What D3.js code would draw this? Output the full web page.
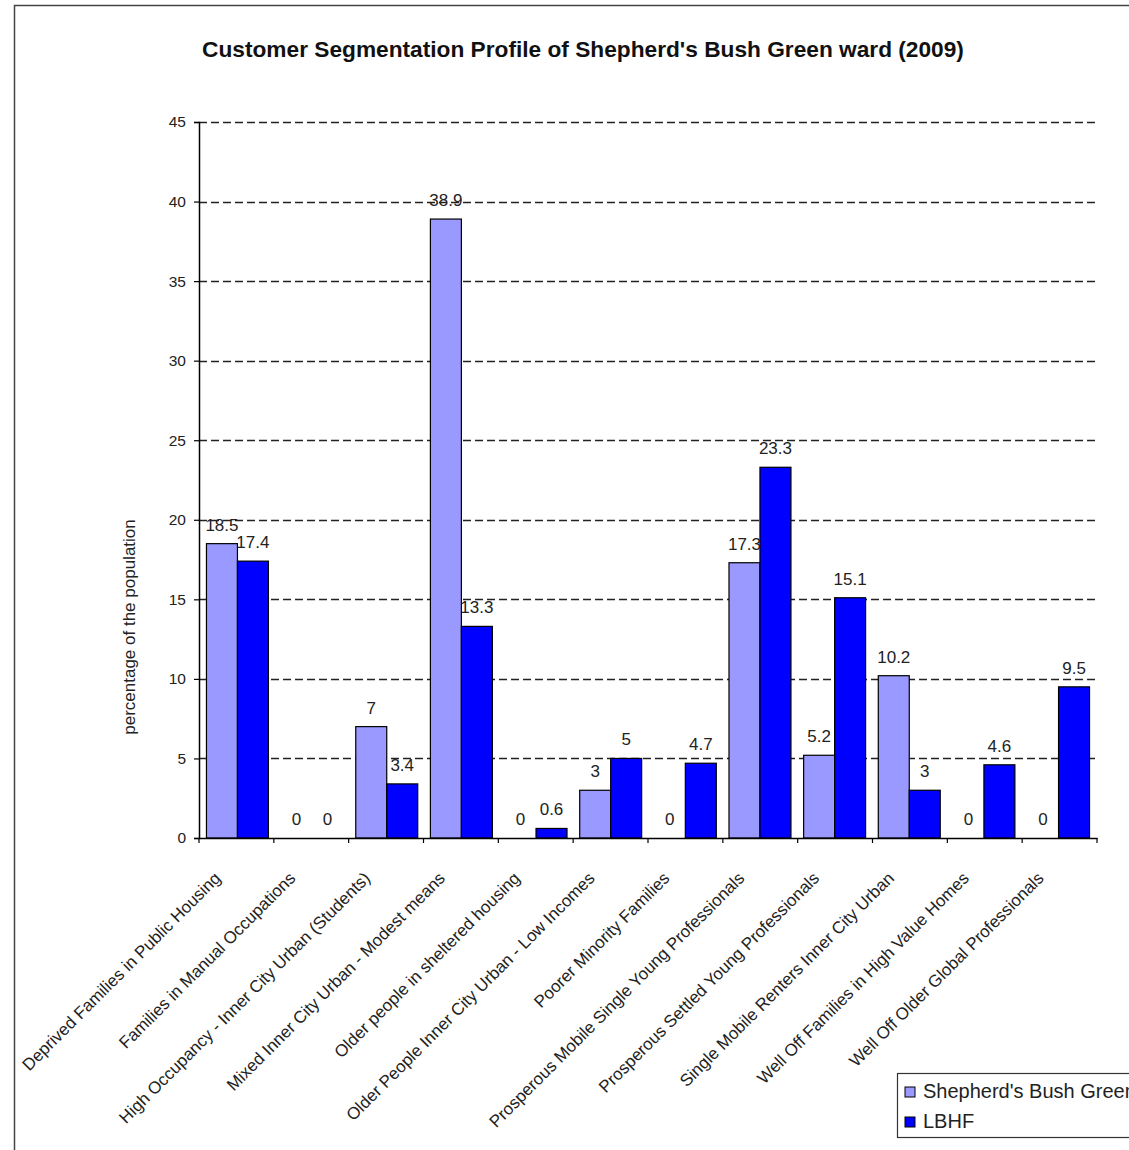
<!DOCTYPE html>
<html>
<head>
<meta charset="utf-8">
<script src="https://cdn.jsdelivr.net/npm/d3@7"></script>
<style>
body { margin:0; background:#fff; }
svg { font-family: "Liberation Sans", Arial, sans-serif; }
</style>
</head>
<body>
<svg id="chart" width="1129" height="1150"></svg>
<script>
//分类
var categories = [
	"Deprived Families in Public Housing",
	"Families in Manual Occupations",
	"High Occupancy - Inner City Urban (Students)",
	"Mixed Inner City Urban - Modest means",
	"Older people in sheltered housing",
	"Older People Inner City Urban - Low Incomes",
	"Poorer Minority Families",
	"Prosperous Mobile Single Young Professionals",
	"Prosperous Settled Young Professionals",
	"Single Mobile Renters Inner City Urban",
	"Well Off Families in High Value Homes",
	"Well Off Older Global Professionals"
];
var wardValues = [18.5, 0, 7, 38.9, 0, 3, 0, 17.3, 5.2, 10.2, 0, 0];
var lbhfValues = [17.4, 0, 3.4, 13.3, 0.6, 5, 4.7, 23.3, 15.1, 3, 4.6, 9.5];
var seriesNames = ["Shepherd's Bush Green", "LBHF"];
var yTicks = [0, 5, 10, 15, 20, 25, 30, 35, 40, 45];

var colors = ["#9999ff", "#0000ff"];

var s = d3.select("#chart");
var width = +s.attr("width");
var height = +s.attr("height");

//外框
s.append("rect")
	.attr("x", 14.5).attr("y", 5.5)
	.attr("width", 1200).attr("height", 1200)
	.attr("fill", "#fff")
	.attr("stroke", "#444").attr("stroke-width", 1.5);

var padding = {top:122, right:32, bottom:312, left:199};

var x = d3.scaleBand()
	.domain(categories)
	.range([padding.left, width-padding.right])
	.paddingInner(0.17).paddingOuter(0.1);
var x1 = d3.scaleBand()
	.domain([0,1])
	.range([0, x.bandwidth()]);
var y = d3.scaleLinear()
	.domain([0, 45])
	.range([height-padding.bottom, padding.top]);

//标题
s.append("text")
	.attr("x", 583).attr("y", 57)
	.attr("text-anchor", "middle")
	.style("font-size", "22.7px").style("font-weight", "bold")
	.attr("fill", "#111")
	.text("Customer Segmentation Profile of Shepherd's Bush Green ward (2009)");

//网格线
s.append("g").selectAll("line")
	.data(yTicks.filter(function(d){ return d>0; }))
	.enter().append("line")
	.attr("x1", padding.left).attr("x2", width-padding.right)
	.attr("y1", function(d){ return Math.round(y(d))+0.5; })
	.attr("y2", function(d){ return Math.round(y(d))+0.5; })
	.attr("stroke", "#222").attr("stroke-width", 1.3)
	.attr("stroke-dasharray", "8,4");

//y轴
var yAxis = d3.axisLeft(y).tickValues(yTicks).tickSize(5).tickPadding(8);
var gy = s.append("g")
	.attr("transform", "translate("+padding.left+",0)")
	.call(yAxis);
gy.select(".domain").attr("stroke", "#000").attr("stroke-width", 1.5);
gy.selectAll(".tick line").attr("stroke", "#000").attr("stroke-width", 1.2);
gy.selectAll("text").style("font-size", "15.5px").attr("fill", "#222");

s.append("text")
	.attr("transform", "translate(135,627) rotate(-90)")
	.attr("text-anchor", "middle")
	.style("font-size", "17px")
	.attr("fill", "#222")
	.text("percentage of the population");

//柱子
function pairs(d, i){
	return [{s:0, v:wardValues[i]}, {s:1, v:lbhfValues[i]}];
}
var groups = s.append("g").selectAll("g")
	.data(categories)
	.enter().append("g")
	.attr("transform", function(d){ return "translate("+x(d)+",0)"; });

groups.selectAll("rect")
	.data(function(d, i){ return pairs(d, i).filter(function(p){ return p.v>0; }); })
	.enter().append("rect")
	.attr("x", function(p){ return x1(p.s); })
	.attr("y", function(p){ return y(p.v); })
	.attr("width", x1.bandwidth())
	.attr("height", function(p){ return y(0)-y(p.v); })
	.attr("fill", function(p){ return colors[p.s]; })
	.attr("stroke", "#000").attr("stroke-width", 1.2);

//数值标签
groups.selectAll("text")
	.data(pairs)
	.enter().append("text")
	.attr("x", function(p){ return x1(p.s)+x1.bandwidth()/2; })
	.attr("y", function(p){ return y(p.v)-13; })
	.attr("text-anchor", "middle")
	.style("font-size", "17px")
	.attr("fill", "#222")
	.text(function(p){ return p.v; });

//x轴
var xAxis = d3.axisBottom(x).tickSize(0).tickFormat("");
var gx = s.append("g")
	.attr("transform", "translate(0,"+y(0)+")")
	.call(xAxis);
gx.select(".domain").attr("stroke", "#000").attr("stroke-width", 1.5);
var step = (width-padding.right-padding.left)/categories.length;
gx.selectAll(".sep")
	.data(d3.range(categories.length+1))
	.enter().append("line")
	.attr("x1", function(i){ return padding.left+i*step; })
	.attr("x2", function(i){ return padding.left+i*step; })
	.attr("y1", 0).attr("y2", 5)
	.attr("stroke", "#000").attr("stroke-width", 1.2);

//分类标签
s.append("g").selectAll("text")
	.data(categories)
	.enter().append("text")
	.attr("transform", function(d, i){
		var cx = padding.left+(i+0.5)*step;
		return "translate("+(cx-19)+","+(y(0)+37)+") rotate(-45)";
	})
	.attr("text-anchor", "end")
	.attr("dy", "0.35em")
	.style("font-size", "17px")
	.attr("fill", "#222")
	.text(function(d){ return d; });

//图例
var lg = s.append("g");
lg.append("rect")
	.attr("x", 897.5).attr("y", 1073.5)
	.attr("width", 300).attr("height", 64)
	.attr("fill", "#fff").attr("stroke", "#333").attr("stroke-width", 1.2);
var items = lg.selectAll("g.item")
	.data(seriesNames)
	.enter().append("g")
	.attr("class", "item")
	.attr("transform", function(d,i){ return "translate(905,"+(1087+i*30)+")"; });
items.append("rect")
	.attr("width", 10).attr("height", 10)
	.attr("fill", function(d,i){ return colors[i]; })
	.attr("stroke", "#000").attr("stroke-width", 1);
items.append("text")
	.attr("x", 18).attr("y", 11)
	.style("font-size", "20px")
	.attr("fill", "#222")
	.text(function(d){ return d; });
</script>
</body>
</html>
